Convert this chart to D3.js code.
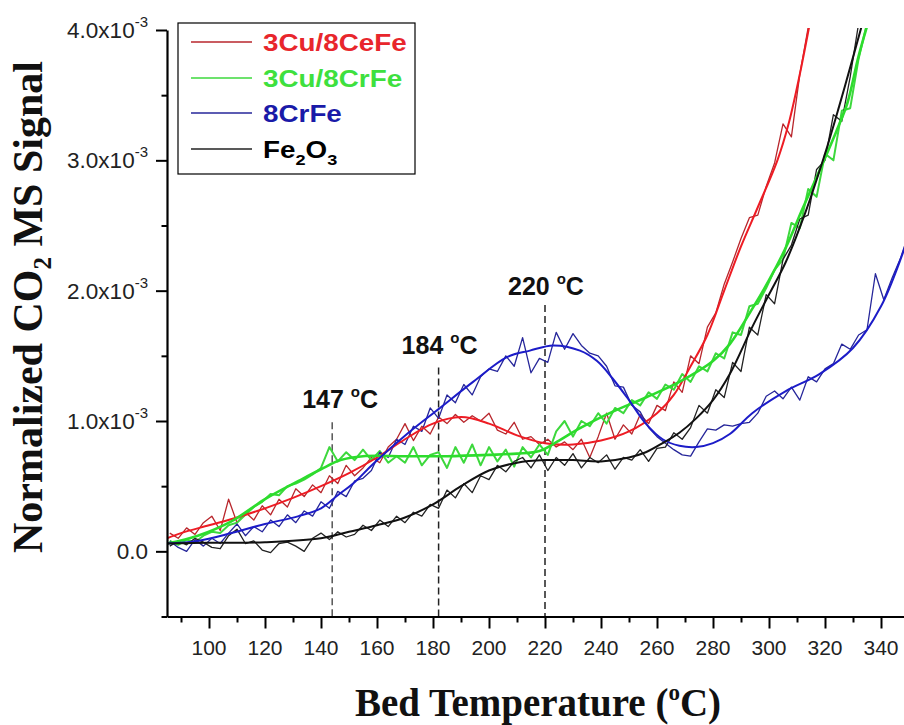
<!DOCTYPE html>
<html><head><meta charset="utf-8">
<script src="https://cdn.jsdelivr.net/npm/d3@7"></script>
<style>body{margin:0;background:#fff}svg{display:block}</style>
</head><body>
<svg id="chart" width="904" height="725"></svg>
<script>
// ---- data (signal values in units of 1e-3) ----
const seriesNames = ["3Cu/8CeFe", "3Cu/8CrFe", "8CrFe", "Fe2O3"];
const rawTemps = [86,89,92,95,98,101,104,107,110,113,116,119,122,125,128,131,134,137,140,143,
  146,149,152,155,158,161,164,167,170,173,176,179,182,185,188,191,194,197,200,203,
  206,209,212,215,218,221,224,227,230,233,236,239,242,245,248,251,254,257,260,263,
  266,269,272,275,278,281,284,287,290,293,296,299,302,305,308,311,314,317,320,323,
  326,329,332,335,338,341,344,347,350];

const cuCeFeRaw = [.14,.10,.18,.13,.22,.27,.16,.40,.22,.30,
  .24,.35,.28,.40,.34,.48,.42,.51,.45,.58,
  .52,.66,.58,.64,.72,.68,.80,.86,.98,.85,
  .96,.90,1.03,.98,1.05,.99,1.04,1.00,1.06,.93,
  .90,.99,.86,.88,.82,.86,.80,.84,.78,.86,
  .72,.88,1.06,.86,.97,.90,1.05,.98,1.12,1.08,
  1.30,1.22,1.50,1.44,1.72,1.83,2.05,2.22,2.40,2.56,
  2.58,2.80,2.98,3.28,3.18,3.66,4.02];
const cuCrFeRaw = [.08,.05,.09,.07,.12,.15,.14,.20,.22,.28,
  .34,.38,.44,.43,.50,.52,.55,.59,.64,.80,
  .69,.76,.70,.78,.70,.77,.68,.73,.68,.80,
  .66,.74,.76,.64,.80,.68,.82,.66,.80,.69,
  .78,.65,.80,.72,.82,.74,.92,1.00,.88,1.00,
  .96,1.06,.98,1.10,1.06,1.16,1.12,1.22,1.17,1.28,
  1.24,1.36,1.30,1.42,1.38,1.52,1.48,1.68,1.66,1.88,
  1.90,2.02,2.16,2.24,2.52,2.48,2.78,2.72,3.05,3.00,
  3.38,3.40,3.78,4.05];
const crFeRaw = [.08,.03,.00,.09,.04,.10,.06,.14,.21,.12,
  .19,.15,.24,.19,.28,.22,.31,.27,.38,.33,
  .46,.42,.54,.56,.62,.76,.72,.86,.82,.96,
  .92,1.10,1.02,1.20,1.14,1.28,1.20,1.34,1.40,1.38,
  1.50,1.42,1.64,1.37,1.48,1.45,1.68,1.55,1.67,1.58,
  1.52,1.50,1.42,1.27,1.26,1.12,1.07,.95,.88,.83,
  .78,.74,.73,.84,.94,.93,.97,.96,.98,.99,
  1.06,1.19,1.23,1.17,1.26,1.16,1.34,1.30,1.40,1.44,
  1.59,1.55,1.66,1.70,2.13,1.93,2.10,2.25,2.45];
const fe2o3Raw = [.04,.08,.05,.10,.07,.03,.02,.12,.17,.06,
  .08,.01,-.01,.06,.07,.04,.00,.10,.14,.09,
  .15,.11,.13,.20,.16,.24,.19,.27,.22,.30,
  .27,.36,.33,.47,.41,.52,.45,.58,.55,.66,
  .61,.69,.72,.64,.74,.62,.72,.66,.75,.64,
  .72,.68,.74,.63,.72,.70,.78,.69,.79,.80,
  .91,.86,.95,1.12,1.06,1.24,1.18,1.45,1.38,1.72,
  1.66,1.97,1.90,2.24,2.35,2.55,2.58,2.93,3.00,3.35,
  3.30,3.64,4.05];

// smoothed fits: [temperature, signal]
const cuCeFeFit = [[85,.10],[90,.14],[100,.20],[110,.26],[120,.33],[130,.41],[140,.50],[150,.60],[160,.72],[170,.86],[180,.98],[190,1.03],[200,.98],[210,.89],[220,.83],[230,.82],[240,.85],[250,.92],[260,1.06],[266,1.20],[272,1.42],[278,1.66],[284,2.00],[290,2.34],[296,2.64],[303,3.00],[307,3.28],[311,3.66],[315,4.10]];
const cuCrFeFit = [[85,.06],[96,.12],[108,.23],[120,.40],[132,.54],[140,.63],[147,.70],[155,.73],[170,.73],[185,.73],[200,.74],[210,.75],[218,.77],[225,.85],[232,.94],[244,1.07],[256,1.18],[268,1.30],[280,1.46],[286,1.59],[294,1.86],[300,2.08],[306,2.33],[312,2.63],[318,2.92],[324,3.22],[328,3.44],[332,3.80],[336,4.10]];
const crFeFit = [[85,.06],[96,.08],[108,.14],[120,.21],[132,.27],[140,.33],[146,.43],[152,.53],[158.6,.67],[170.7,.90],[182.5,1.10],[194.3,1.30],[206.4,1.49],[214.6,1.54],[222.9,1.58],[232.5,1.54],[238.6,1.46],[244,1.33],[250,1.16],[256,.98],[262,.86],[268,.81],[274,.80],[280,.83],[286,.90],[294,1.06],[306,1.23],[318,1.36],[330,1.56],[340,1.88],[348,2.30],[352,2.55]];
const fe2o3Fit = [[85,.06],[100,.065],[120,.07],[140,.10],[150,.15],[160,.20],[170,.26],[180,.36],[190,.50],[200,.62],[210,.68],[220,.70],[230,.70],[240,.69],[250,.72],[256,.76],[262,.83],[268,.91],[274,1.02],[280,1.16],[286,1.36],[294,1.72],[300,1.97],[306,2.22],[313,2.60],[320,3.05],[325,3.41],[330,3.79],[334,4.10]];

const xTicks = [100,120,140,160,180,200,220,240,260,280,300,320,340];
const xMinorTicks = [90,110,130,150,170,190,210,230,250,270,290,310,330];
const yTicks = [0,1,2,3,4];
const yTickLabels = ["0.0","1.0x10^-3","2.0x10^-3","3.0x10^-3","4.0x10^-3"];
const yMinorTicks = [-0.5,0.5,1.5,2.5,3.5];

const peakTemps = [144, 182, 220];
const peakLabels = ["147", "184", "220"];
const peakLineTops = [0.99, 1.41, 1.89];

// ---- drawing ----
const svg = d3.select("#chart");
const x = d3.scaleLinear().domain([85, 350]).range([167, 909]);
const y = d3.scaleLinear().domain([-0.5, 4.0]).range([616.5, 30]);
const SANS = "'Liberation Sans', Arial, sans-serif";
const SERIF = "'Liberation Serif', 'Times New Roman', serif";

const styles = [
  {fit:"#ee1c24", raw:"#b8262c", fitW:2, rawW:1.3, text:"#e8262c"},
  {fit:"#2ddc2d", raw:"#3dd83d", fitW:2.6, rawW:2, text:"#3ee03e"},
  {fit:"#1c1cc8", raw:"#26269a", fitW:2, rawW:1.3, text:"#1a1aa8"},
  {fit:"#111111", raw:"#222222", fitW:2, rawW:1.3, text:"#000"}
];
const raws = [cuCeFeRaw, cuCrFeRaw, crFeRaw, fe2o3Raw];
const fits = [cuCeFeFit, cuCrFeFit, crFeFit, fe2o3Fit];

svg.append("defs").append("clipPath").attr("id","plotclip")
  .append("rect").attr("x",167).attr("y",28).attr("width",760).attr("height",590);

// dashed peak lines
peakTemps.forEach((t,i)=>{
  svg.append("line").attr("x1",x(t)).attr("x2",x(t))
    .attr("y1",y(peakLineTops[i])).attr("y2",y(-0.5))
    .attr("stroke", i===0 ? "#555" : "#222").attr("stroke-width",1.5)
    .attr("stroke-dasharray","7,4");
  const tx = svg.append("text").attr("x", x(t) + (i===0 ? -30 : -37))
    .attr("y", y(peakLineTops[i]) - (i===2 ? 10 : 14))
    .attr("font-family",SANS).attr("font-weight","bold").attr("font-size",25).attr("fill","#111");
  tx.append("tspan").text(peakLabels[i] + " ");
  tx.append("tspan").attr("font-size",15).attr("dy",-11).text("o");
  tx.append("tspan").attr("dy",11).text("C");
});

const g = svg.append("g").attr("clip-path","url(#plotclip)");
const rawLine = d3.line().x((d,i)=>x(rawTemps[i])).y(d=>y(d));
const fitLine = d3.line().x(d=>x(d[0])).y(d=>y(d[1])).curve(d3.curveCatmullRom.alpha(0.5));

[0,1,2,3].forEach(k=>{
  g.append("path").datum(raws[k]).attr("d", rawLine)
    .attr("fill","none").attr("stroke",styles[k].raw).attr("stroke-width",styles[k].rawW)
    .attr("stroke-linejoin","round");
});
[0,1,2,3].forEach(k=>{
  g.append("path").datum(fits[k]).attr("d", fitLine)
    .attr("fill","none").attr("stroke",styles[k].fit).attr("stroke-width",styles[k].fitW);
});

// axes
svg.append("g").attr("transform",`translate(0,${y(-0.5)})`)
  .call(d3.axisBottom(x).tickValues(xTicks).tickSize(12).tickSizeOuter(0).tickFormat(""));
svg.append("g").attr("transform",`translate(0,${y(-0.5)})`)
  .call(d3.axisBottom(x).tickValues(xMinorTicks).tickSize(6).tickSizeOuter(0).tickFormat(""))
  .select(".domain").remove();
svg.append("g").attr("transform",`translate(${x(85)},0)`)
  .call(d3.axisLeft(y).tickValues(yTicks).tickSize(11).tickSizeOuter(0).tickFormat(""));
svg.append("g").attr("transform",`translate(${x(85)},0)`)
  .call(d3.axisLeft(y).tickValues(yMinorTicks).tickSize(5.5).tickSizeOuter(0).tickFormat(""))
  .select(".domain").remove();
svg.selectAll(".domain").attr("stroke","#000").attr("stroke-width",2.2);
svg.selectAll(".tick line").attr("stroke","#000").attr("stroke-width",2);

xTicks.forEach(t=>{
  svg.append("text").attr("x",x(t)).attr("y",655).attr("text-anchor","middle")
    .attr("font-family",SANS).attr("font-size",21).attr("fill","#222").text(t);
});
yTicks.forEach((t,i)=>{
  const parts = yTickLabels[i].split("^");
  const tx = svg.append("text").attr("x",148).attr("y",y(t)+8).attr("text-anchor","end")
    .attr("font-family",SANS).attr("font-size",22.5).attr("fill","#222");
  tx.append("tspan").text(parts[0]);
  if (parts[1]) {
    tx.append("tspan").attr("font-size",15).attr("dy",-11).text(parts[1]);
  }
});

// axis titles
const xt = svg.append("text").attr("x",538).attr("y",716).attr("text-anchor","middle")
  .attr("font-family",SERIF).attr("font-weight","bold").attr("font-size",39).attr("fill","#111");
xt.append("tspan").text("Bed Temperature (");
xt.append("tspan").attr("font-size",23).attr("dy",-16).text("o");
xt.append("tspan").attr("dy",16).text("C)");

const yt = svg.append("text").attr("transform","translate(42,307) rotate(-90)").attr("text-anchor","middle")
  .attr("font-family",SERIF).attr("font-weight","bold").attr("font-size",42).attr("fill","#111");
yt.append("tspan").text("Normalized CO");
yt.append("tspan").attr("font-size",25).attr("dy",9).text("2");
yt.append("tspan").attr("dy",-9).text(" MS Signal");

// legend
svg.append("rect").attr("x",178).attr("y",23).attr("width",237).attr("height",151)
  .attr("fill","#fff").attr("stroke","#000").attr("stroke-width",1.2);
const legY = [42,78,113,149];
seriesNames.forEach((name,i)=>{
  svg.append("line").attr("x1",191).attr("x2",252).attr("y1",legY[i]).attr("y2",legY[i])
    .attr("stroke",styles[i].raw).attr("stroke-width",1.5);
  const tx = svg.append("text").attr("transform",`translate(263,${legY[i]+9}) scale(1.21,1)`)
    .attr("font-family",SANS).attr("font-weight","bold").attr("font-size",23).attr("fill",styles[i].text);
  if (name === "Fe2O3") {
    tx.append("tspan").text("Fe");
    tx.append("tspan").attr("font-size",15).attr("dy",7).text("2");
    tx.append("tspan").attr("dy",-7).text("O");
    tx.append("tspan").attr("font-size",15).attr("dy",7).text("3");
  } else {
    tx.text(name);
  }
});
</script>
</body></html>
